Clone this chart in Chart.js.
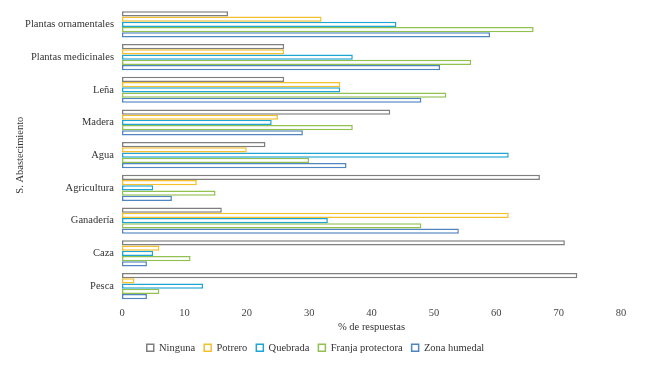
<!DOCTYPE html>
<html>
<head>
<meta charset="utf-8">
<script src="https://cdn.jsdelivr.net/npm/chart.js@4.4.0/dist/chart.umd.min.js"></script>
<style>
  body { margin: 0; background: #fff; }
  #wrap { width: 650px; height: 365px; }
</style>
</head>
<body>
<div id="wrap"><canvas id="myChart" width="650" height="365"></canvas></div>
<script>
var categories = ['Plantas ornamentales', 'Plantas medicinales', 'Leña', 'Madera', 'Agua',
    'Agricultura', 'Ganadería', 'Caza', 'Pesca'];
var ninguna = [17, 26, 26, 43, 23, 67, 16, 71, 73];
var potrero = [32, 26, 35, 25, 20, 12, 62, 6, 2];
var quebrada = [44, 37, 35, 24, 62, 5, 33, 5, 13];
var franja = [66, 56, 52, 37, 30, 15, 48, 11, 6];
var humedal = [59, 51, 48, 29, 36, 8, 54, 4, 4];
var xTicks = [0, 10, 20, 30, 40, 50, 60, 70, 80];

var serif = "'Liberation Serif', 'Times New Roman', serif";

var makeSet = function(label, values, color) {
    return {
        label: label,
        data: values,
        backgroundColor: '#ffffff',
        borderColor: color,
        borderWidth: 1.5,
        borderSkipped: false,
        barPercentage: 1,
        categoryPercentage: 0.8
    };
};

var ctx = document.getElementById('myChart').getContext('2d');
var chart = new Chart(ctx, {
    type: 'bar',
    data: {
        labels: categories,
        datasets: [
            makeSet('Ninguna', ninguna, '#7f7f7f'),
            makeSet('Potrero', potrero, '#f5c02c'),
            makeSet('Quebrada', quebrada, '#1ea5d6'),
            makeSet('Franja protectora', franja, '#92c150'),
            makeSet('Zona humedal', humedal, '#4f86c1')
        ]
    },
    options: {
        indexAxis: 'y',
        responsive: false,
        animation: false,
        layout: { padding: { left: 10, right: 29, top: 8, bottom: 2 } },
        plugins: {
            legend: {
                position: 'bottom',
                labels: {
                    font: { family: serif, size: 10.5 },
                    color: '#333',
                    boxWidth: 7,
                    boxHeight: 7,
                    padding: 9,
                    useBorderRadius: false
                }
            },
            tooltip: { enabled: false }
        },
        scales: {
            x: {
                min: 0,
                max: 80,
                afterBuildTicks: function(axis) {
                    axis.ticks = xTicks.map(function(v) { return { value: v }; });
                },
                grid: { display: false, drawTicks: false },
                border: { display: false },
                ticks: { font: { family: serif, size: 10.5, lineHeight: 1 }, color: '#444', padding: 6 },
                title: {
                    display: true,
                    text: '% de respuestas',
                    font: { family: serif, size: 10.5 },
                    color: '#333',
                    padding: { top: -4, bottom: 0 }
                }
            },
            y: {
                grid: { display: false, drawTicks: false },
                border: { display: false },
                ticks: { font: { family: serif, size: 10.5 }, color: '#333', padding: 8 },
                title: {
                    display: true,
                    text: 'S. Abastecimiento',
                    font: { family: serif, size: 10.5 },
                    color: '#333'
                },
                afterFit: function(scale) {
                    scale.width = 112;
                    scale.paddingTop = 0;
                    scale.paddingBottom = 0;
                }
            }
        }
    }
});
</script>
</body>
</html>
